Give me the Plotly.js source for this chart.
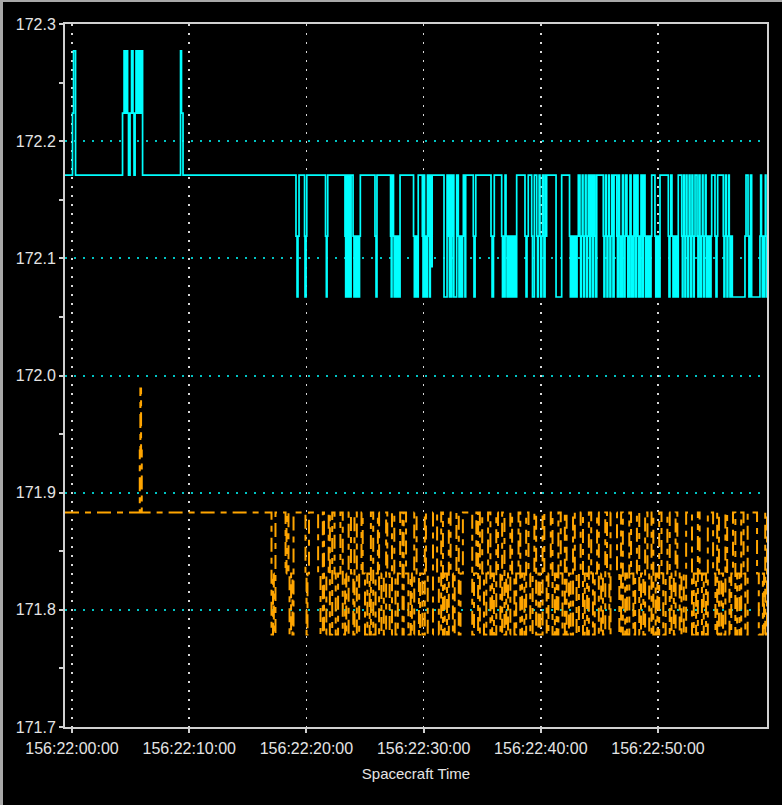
<!DOCTYPE html>
<html>
<head>
<meta charset="utf-8">
<script src="https://cdn.plot.ly/plotly-3.0.1.min.js"></script>
<style>
  html, body { margin: 0; padding: 0; background: #000; }
  #frame { width: 782px; height: 805px; box-sizing: border-box; border-left: 3px solid #a8a8a8; border-top: 2px solid #a8a8a8; background: #000; }
  #chart { width: 779px; height: 803px; }
</style>
</head>
<body>
<div id="frame"><div id="chart"></div></div>
<script>
// x: seconds after 156:22:00:00 (Spacecraft Time)
const xTickVals = [0, 10, 20, 30, 40, 50];
const xTickLabels = ["156:22:00:00", "156:22:10:00", "156:22:20:00", "156:22:30:00", "156:22:40:00", "156:22:50:00"];
const xTitle = "Spacecraft Time";

// cyan series (step transitions)
const cyanTime = [
 -0.60, 0.04, 0.13, 0.30, 4.31, 4.44, 4.56, 4.65, 4.74, 4.82, 4.95, 5.08, 5.20, 5.29, 5.38, 5.46, 5.59, 5.72, 5.84, 5.93, 6.02,
 9.26, 9.34, 9.47,
 19.11, 19.20, 19.28, 19.37, 19.84, 19.88, 19.97, 20.03, 21.63, 21.70, 21.76, 21.82,
 23.29, 23.35, 23.42, 23.51, 23.55, 23.62, 23.68, 23.74, 23.81, 23.98, 24.06, 24.12, 24.17, 24.23, 24.32, 24.40, 24.46, 24.53, 24.60,
 25.85, 25.94, 26.02, 27.18, 27.24, 27.30, 27.43, 27.49, 27.56, 27.63, 27.69, 27.76, 27.83, 27.90, 27.99,
 29.14, 29.21, 29.27, 29.33, 29.39, 29.46, 29.54, 29.89, 29.95, 30.01, 30.08, 30.14, 30.20, 30.27, 30.33,
 30.46, 30.52, 30.57, 30.67, 30.73, 31.74, 32.00, 32.05, 32.10, 32.15, 32.20, 32.25, 32.30, 32.35, 32.42, 32.47, 32.53, 32.58, 32.82,
 32.96, 33.02, 33.11, 33.19, 33.32, 33.39, 33.47, 33.53, 33.59, 34.24, 34.30, 34.39, 34.45,
 35.75, 35.84, 35.96, 36.03, 36.66, 36.73, 36.82, 36.89, 36.95, 37.03, 37.12, 37.20, 37.29, 37.37, 37.46, 37.54, 37.63, 37.71, 37.80, 37.94,
 38.65, 38.74, 38.82, 38.93, 39.22, 39.29, 39.45, 39.65, 39.72, 39.79, 39.86, 39.93, 40.00, 40.08, 40.15, 40.21, 40.27, 40.36, 40.44, 40.50,
 41.30, 41.78, 42.45, 42.52, 42.58, 42.66, 42.75, 42.83, 42.92, 43.00, 43.09, 43.20,
 43.34, 43.40, 43.47, 43.54, 43.60, 43.67, 43.73, 43.80, 43.86, 43.92, 43.98, 44.05, 44.11, 44.18, 44.25, 44.37, 44.43, 44.50, 44.62, 44.69, 44.77,
 45.33, 45.39, 45.46, 45.52, 45.58, 45.65, 45.72, 45.78, 45.84, 45.90, 45.97, 46.05, 46.16, 46.25,
 46.48, 46.54, 46.63, 46.71, 46.78, 46.84, 46.91, 46.97, 47.06, 47.12, 47.18, 47.25, 47.35, 47.42, 47.48, 47.55, 47.61,
 47.70, 47.76, 47.82, 47.89, 47.95, 48.04, 48.11, 48.17, 48.29, 48.36, 48.42, 48.49, 48.55, 48.63, 48.70, 48.76,
 48.89, 48.96, 49.02, 49.09, 49.15, 49.22, 49.27, 49.34, 49.40, 49.46, 49.74, 49.81, 49.87, 49.94, 50.02, 50.09, 50.17,
 50.88, 50.94, 51.02, 51.09, 51.19, 51.28, 51.37, 51.45, 51.54, 51.62, 51.73,
 52.02, 52.08, 52.13, 52.19, 52.25, 52.30, 52.36, 52.42, 52.47, 52.54, 52.60, 52.66, 52.73, 52.79, 52.85, 52.90, 52.97, 53.03, 53.09, 53.16,
 53.33, 53.41, 53.50, 53.58, 53.65, 53.72, 53.79, 53.84, 53.91, 53.98, 54.04, 54.10, 54.16, 54.23, 54.30, 54.37, 54.44, 54.52, 54.58,
 54.86, 54.95, 55.03, 55.09, 55.57, 55.63, 55.70, 55.76, 55.82, 55.89, 55.96, 56.02, 56.08, 56.14, 56.27, 56.34,
 57.42, 57.51, 57.68, 57.76, 57.89, 57.99, 58.70, 58.76, 58.83, 58.90, 58.96, 59.03, 59.10, 59.16, 59.21, 59.27, 59.40
];
const cyanValue = [
 172.171, 172.224, 172.277, 172.171, 172.224, 172.277, 172.224, 172.277, 172.224, 172.171, 172.224, 172.277, 172.224, 172.171, 172.224, 172.277, 172.224, 172.277, 172.224, 172.277, 172.171,
 172.277, 172.224, 172.171,
 172.119, 172.067, 172.119, 172.171, 172.119, 172.067, 172.119, 172.171, 172.119, 172.067, 172.119, 172.171,
 172.119, 172.067, 172.171, 172.119, 172.067, 172.171, 172.119, 172.067, 172.171, 172.119, 172.067, 172.119, 172.067, 172.119, 172.067, 172.119, 172.067, 172.119, 172.171,
 172.119, 172.067, 172.171, 172.119, 172.067, 172.171, 172.119, 172.067, 172.119, 172.067, 172.119, 172.067, 172.119, 172.067, 172.171,
 172.119, 172.067, 172.119, 172.067, 172.119, 172.067, 172.171, 172.119, 172.067, 172.171, 172.119, 172.067, 172.119, 172.067, 172.171,
 172.119, 172.067, 172.171, 172.093, 172.171, 172.067, 172.171, 172.119, 172.171, 172.119, 172.067, 172.171, 172.119, 172.067, 172.171, 172.119, 172.171, 172.067, 172.171,
 172.119, 172.067, 172.119, 172.067, 172.119, 172.171, 172.119, 172.067, 172.171, 172.119, 172.067, 172.119, 172.171,
 172.119, 172.067, 172.119, 172.171, 172.119, 172.067, 172.119, 172.067, 172.171, 172.119, 172.067, 172.119, 172.067, 172.119, 172.067, 172.119, 172.067, 172.119, 172.067, 172.171,
 172.119, 172.067, 172.119, 172.171, 172.119, 172.067, 172.171, 172.119, 172.067, 172.119, 172.171, 172.119, 172.067, 172.119, 172.171, 172.119, 172.067, 172.171, 172.119, 172.171,
 172.067, 172.171, 172.119, 172.067, 172.119, 172.067, 172.119, 172.067, 172.119, 172.067, 172.119, 172.171,
 172.119, 172.067, 172.119, 172.171, 172.119, 172.067, 172.119, 172.171, 172.119, 172.067, 172.119, 172.171, 172.119, 172.067, 172.171, 172.119, 172.067, 172.171, 172.119, 172.067, 172.171,
 172.119, 172.067, 172.119, 172.171, 172.119, 172.067, 172.119, 172.171, 172.119, 172.067, 172.119, 172.171, 172.067, 172.171,
 172.119, 172.067, 172.171, 172.119, 172.067, 172.119, 172.067, 172.171, 172.119, 172.067, 172.119, 172.171, 172.119, 172.067, 172.119, 172.067, 172.171,
 172.119, 172.067, 172.119, 172.067, 172.171, 172.119, 172.067, 172.171, 172.119, 172.067, 172.119, 172.067, 172.171, 172.119, 172.067, 172.171,
 172.119, 172.067, 172.119, 172.067, 172.119, 172.067, 172.119, 172.067, 172.119, 172.171, 172.119, 172.067, 172.119, 172.067, 172.119, 172.067, 172.171,
 172.119, 172.067, 172.119, 172.171, 172.119, 172.067, 172.119, 172.067, 172.119, 172.067, 172.171,
 172.119, 172.067, 172.119, 172.171, 172.119, 172.067, 172.119, 172.171, 172.119, 172.067, 172.119, 172.171, 172.119, 172.067, 172.119, 172.171, 172.119, 172.067, 172.119, 172.171,
 172.119, 172.067, 172.171, 172.119, 172.067, 172.119, 172.171, 172.119, 172.067, 172.119, 172.171, 172.119, 172.067, 172.119, 172.067, 172.119, 172.067, 172.119, 172.171,
 172.119, 172.067, 172.119, 172.171, 172.119, 172.067, 172.119, 172.171, 172.119, 172.067, 172.119, 172.171, 172.119, 172.067, 172.119, 172.067,
 172.119, 172.171, 172.119, 172.067, 172.171, 172.067, 172.119, 172.171, 172.119, 172.067, 172.119, 172.067, 172.119, 172.171, 172.119, 172.067, 172.067
];

// orange series (step transitions)
const orangeTime = [
 -0.60, 5.78, 5.83, 5.89, 5.95,
 17.02, 17.15, 17.22, 17.36, 18.22, 18.30, 18.47, 18.56, 18.69, 18.81, 18.90, 19.92, 20.01, 20.09, 20.22,
 21.0, 21.2, 21.4, 21.5, 21.7, 21.9, 22.0, 22.2, 22.4, 22.5, 22.7, 22.9, 23.1, 23.3, 23.4, 23.6, 23.8, 24.0, 24.1, 24.3,
 24.5, 24.7, 24.8, 25.0, 25.2, 25.4, 25.5, 25.7, 25.9, 26.1, 26.2, 26.4, 26.6, 26.8, 26.9, 27.1, 27.3, 27.5, 27.6, 27.8,
 28.0, 28.2, 28.3, 28.5, 28.7, 28.9, 29.0, 29.2, 29.4, 29.6, 29.7, 29.9, 30.1, 30.2, 30.35, 30.8,
 31.15, 31.3, 31.5, 31.65, 31.8, 32.0, 32.15, 32.3, 32.5, 32.65, 32.8, 33.0, 33.15, 33.35,
 34.15, 34.3, 34.5, 34.65, 34.8, 35.0, 35.15, 35.35, 35.5, 35.7, 35.85, 36.0, 36.2, 36.35, 36.55, 36.7, 36.9, 37.05, 37.2, 37.4,
 37.55, 37.75, 37.9, 38.1, 38.25, 38.4, 38.6, 38.75, 38.95, 39.1, 39.3, 39.45, 39.6, 39.8, 39.95, 40.15, 40.3, 40.5, 40.65, 40.85,
 41.0, 41.2, 41.35, 41.5, 41.7, 41.85, 42.05, 42.2, 42.4, 42.55, 42.75, 42.9, 43.05, 43.25, 43.4, 43.6, 43.75, 43.95, 44.1, 44.3,
 44.45, 44.6, 44.8, 44.95, 45.15, 45.3, 45.5, 45.65, 45.85, 45.95,
 46.5, 46.7, 46.85, 47.0, 47.2, 47.35, 47.55, 47.7, 47.9, 48.05, 48.2, 48.4, 48.55, 48.75, 48.9, 49.1, 49.25, 49.45, 49.6, 49.8,
 49.95, 50.1, 50.3, 50.45, 50.65, 50.8, 51.0, 51.15, 51.35, 51.5, 51.65, 51.85, 52.0, 52.2, 52.4,
 52.9, 53.05, 53.25, 53.4, 53.55, 53.75, 53.9, 54.1, 54.25,
 54.7, 54.9, 55.05, 55.2, 55.4, 55.55, 55.75, 55.9, 56.1, 56.25, 56.4, 56.6, 56.75, 56.95, 57.1, 57.3, 57.45, 57.65,
 58.45, 58.6, 58.95, 59.05, 59.15, 59.3, 59.4
];
const orangeValue = [
 171.883, 171.936, 171.989, 171.936, 171.883,
 171.779, 171.831, 171.779, 171.883, 171.831, 171.883, 171.831, 171.779, 171.831, 171.779, 171.883, 171.831, 171.779, 171.831, 171.883,
 171.831, 171.779, 171.883, 171.779, 171.831, 171.883, 171.779, 171.883, 171.831, 171.779, 171.831, 171.883, 171.779, 171.831, 171.779, 171.883, 171.831, 171.779, 171.883, 171.779,
 171.831, 171.883, 171.831, 171.779, 171.831, 171.779, 171.883, 171.779, 171.831, 171.883, 171.779, 171.831, 171.779, 171.883, 171.831, 171.779, 171.883, 171.831, 171.779, 171.831,
 171.883, 171.779, 171.883, 171.831, 171.779, 171.831, 171.779, 171.883, 171.831, 171.779, 171.831, 171.779, 171.883, 171.831, 171.779, 171.883,
 171.831, 171.779, 171.883, 171.779, 171.831, 171.779, 171.883, 171.831, 171.779, 171.831, 171.883, 171.779, 171.831, 171.883,
 171.779, 171.831, 171.883, 171.779, 171.883, 171.831, 171.779, 171.831, 171.883, 171.779, 171.831, 171.779, 171.883, 171.831, 171.779, 171.883, 171.779, 171.831, 171.779, 171.883,
 171.831, 171.779, 171.831, 171.883, 171.779, 171.831, 171.779, 171.883, 171.831, 171.779, 171.831, 171.883, 171.779, 171.831, 171.779, 171.883, 171.831, 171.779, 171.831, 171.883,
 171.779, 171.831, 171.779, 171.883, 171.831, 171.779, 171.883, 171.779, 171.831, 171.779, 171.883, 171.831, 171.779, 171.831, 171.883, 171.779, 171.831, 171.779, 171.883, 171.831,
 171.779, 171.831, 171.883, 171.779, 171.831, 171.779, 171.883, 171.831, 171.779, 171.883,
 171.831, 171.779, 171.883, 171.779, 171.831, 171.779, 171.883, 171.831, 171.779, 171.831, 171.883, 171.779, 171.831, 171.779, 171.883, 171.831, 171.779, 171.883, 171.779, 171.831,
 171.779, 171.883, 171.831, 171.779, 171.831, 171.883, 171.779, 171.831, 171.779, 171.883, 171.831, 171.779, 171.831, 171.779, 171.883,
 171.779, 171.831, 171.779, 171.883, 171.831, 171.779, 171.831, 171.779, 171.883,
 171.831, 171.779, 171.883, 171.779, 171.831, 171.779, 171.883, 171.831, 171.779, 171.831, 171.883, 171.779, 171.831, 171.779, 171.883, 171.831, 171.779, 171.883,
 171.831, 171.779, 171.831, 171.779, 171.883, 171.779, 171.779
];

const fontFamily = "Liberation Sans, Arial, Helvetica, sans-serif";
const axisColor = "#d0d0d0";
const textColor = "#e4e4e4";

const traces = [
  {
    type: "scatter", mode: "lines", x: cyanTime, y: cyanValue,
    line: { color: "#00ffff", width: 1.7, shape: "hv" },
    hoverinfo: "skip", showlegend: false
  },
  {
    type: "scatter", mode: "lines", x: orangeTime, y: orangeValue,
    line: { color: "#ffa500", width: 2, shape: "hv", dash: "14px,6px,6px,6px" },
    hoverinfo: "skip", showlegend: false
  }
];

const layout = {
  width: 779, height: 803,
  paper_bgcolor: "#000000", plot_bgcolor: "#000000",
  margin: { l: 62, r: 15, t: 22, b: 78 },
  font: { family: fontFamily, size: 16, color: textColor },
  showlegend: false,
  xaxis: {
    type: "linear", range: [-0.6, 59.3],
    tickmode: "array", tickvals: xTickVals, ticktext: xTickLabels,
    showgrid: true, gridcolor: "#d8d8d8", gridwidth: 1.5, griddash: "2px,7px",
    zeroline: false,
    showline: true, linecolor: axisColor, linewidth: 2, mirror: true,
    ticks: "outside", ticklen: 4, tickwidth: 2, tickcolor: axisColor,
    ticklabelstandoff: 2,
    tickfont: { family: fontFamily, size: 16, color: textColor },
    title: { text: xTitle, font: { family: fontFamily, size: 15, color: textColor }, standoff: 12 }
  },
  yaxis: {
    range: [171.7, 172.3], tick0: 171.7, dtick: 0.1, tickformat: ".1f",
    showgrid: true, gridcolor: "#00c4c4", gridwidth: 2, griddash: "2px,7px",
    zeroline: false,
    showline: true, linecolor: axisColor, linewidth: 2, mirror: true,
    ticks: "outside", ticklen: 4, tickwidth: 2, tickcolor: axisColor,
    minor: { dtick: 0.05, ticks: "outside", ticklen: 4, tickwidth: 2, tickcolor: axisColor, showgrid: false },
    tickfont: { family: fontFamily, size: 16, color: textColor }
  }
};

Plotly.newPlot("chart", traces, layout, { staticPlot: true, displayModeBar: false });
</script>
</body>
</html>
